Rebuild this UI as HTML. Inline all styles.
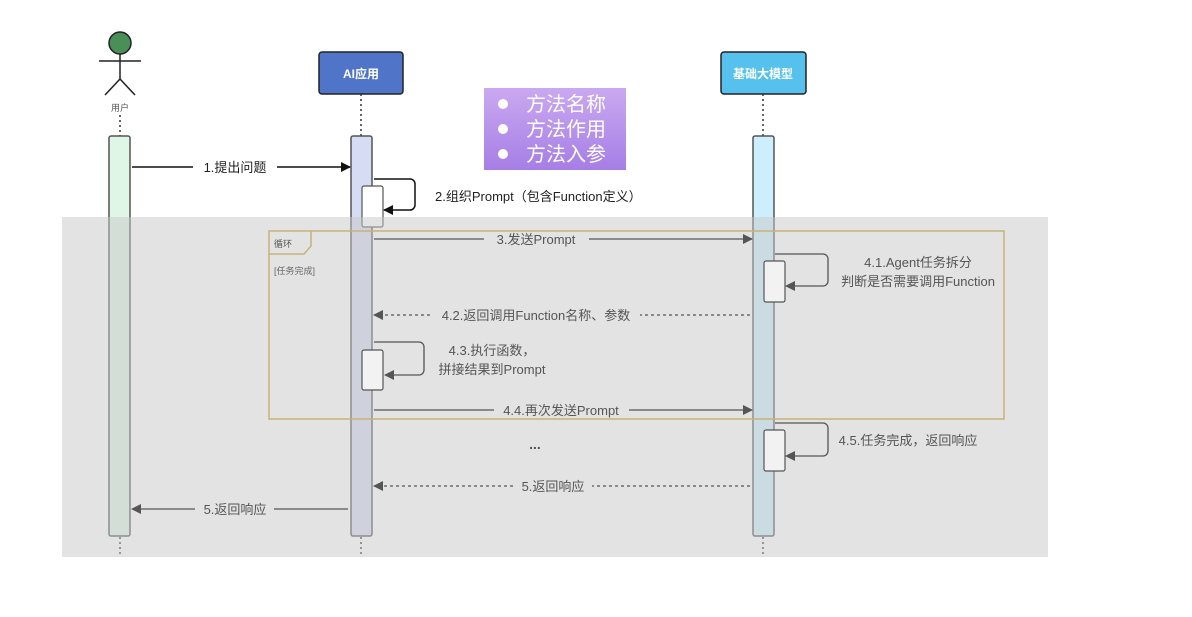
<!DOCTYPE html>
<html><head><meta charset="utf-8"><style>
html,body{margin:0;padding:0;background:#fff;}
svg{display:block;font-family:"Liberation Sans","Noto Sans CJK SC",sans-serif;}
</style></head><body>
<svg width="1192" height="617" viewBox="0 0 1192 617" xmlns="http://www.w3.org/2000/svg">
<defs>
<marker id="ab" markerWidth="10" markerHeight="10" refX="9" refY="5" orient="auto" markerUnits="userSpaceOnUse"><path d="M0,0 L10,5 L0,10z" fill="#111"/></marker>
<marker id="ag" markerWidth="10" markerHeight="10" refX="9" refY="5" orient="auto" markerUnits="userSpaceOnUse"><path d="M0,0 L10,5 L0,10z" fill="#555"/></marker>
<linearGradient id="pg" x1="0" y1="0" x2="0" y2="1"><stop offset="0" stop-color="#caa9f0"/><stop offset="1" stop-color="#a67ee6"/></linearGradient>
</defs>
<rect width="1192" height="617" fill="#fff"/>
<!-- actor -->
<circle cx="120" cy="43" r="11" fill="#4a8f57" stroke="#222" stroke-width="1.5"/>
<line x1="120" y1="54" x2="120" y2="79" stroke="#222" stroke-width="1.5"/>
<line x1="99" y1="61" x2="141" y2="61" stroke="#222" stroke-width="1.5"/>
<line x1="120" y1="79" x2="105" y2="95" stroke="#222" stroke-width="1.5"/>
<line x1="120" y1="79" x2="135" y2="95" stroke="#222" stroke-width="1.5"/>
<text x="120" y="111" font-size="9" fill="#555" text-anchor="middle">用户</text>
<!-- heads -->
<rect x="319" y="52" width="84" height="42" rx="3" fill="#4f74c8" stroke="#222" stroke-width="1.5"/>
<text x="361" y="78" font-size="12" font-weight="bold" fill="#fff" text-anchor="middle">AI应用</text>
<rect x="721" y="52" width="85" height="42" rx="3" fill="#56c1ec" stroke="#222" stroke-width="1.5"/>
<text x="763" y="78" font-size="12" font-weight="bold" fill="#fff" text-anchor="middle">基础大模型</text>
<!-- dotted -->
<g stroke="#333" stroke-width="1.5" stroke-dasharray="2,3">
<line x1="120" y1="115" x2="120" y2="136"/><line x1="361" y1="94" x2="361" y2="136"/><line x1="763" y1="94" x2="763" y2="136"/>
<line x1="120" y1="537" x2="120" y2="557"/><line x1="361" y1="537" x2="361" y2="557"/><line x1="763" y1="537" x2="763" y2="557"/>
</g>
<!-- purple box -->
<rect x="484" y="88" width="142" height="82" fill="url(#pg)"/>
<g fill="#fff" font-size="20"><circle cx="503" cy="104" r="5"/><circle cx="503" cy="129" r="5"/><circle cx="503" cy="154" r="5"/>
<text x="526" y="111">方法名称</text><text x="526" y="136">方法作用</text><text x="526" y="161">方法入参</text></g>
<!-- bars -->
<rect x="109" y="136" width="21" height="400" rx="2" fill="#dff5e6" stroke="#555" stroke-width="1.5"/>
<rect x="351" y="136" width="21" height="400" rx="2" fill="#d6dcf3" stroke="#555" stroke-width="1.5"/>
<rect x="753" y="136" width="21" height="400" rx="2" fill="#cdeefd" stroke="#555" stroke-width="1.5"/>
<!-- step 1,2 -->
<line x1="132" y1="167" x2="193" y2="167" stroke="#111" stroke-width="1.5"/>
<line x1="277" y1="167" x2="350" y2="167" stroke="#111" stroke-width="1.5" marker-end="url(#ab)"/>
<text x="235" y="172" font-size="13" fill="#222" text-anchor="middle">1.提出问题</text>
<rect x="362" y="186" width="21" height="41" rx="2" fill="#fff" stroke="#555" stroke-width="1.2"/>
<path d="M374,179 H410 a5,5 0 0 1 5,5 V205 a5,5 0 0 1 -5,5 H384" fill="none" stroke="#111" stroke-width="1.5" marker-end="url(#ab)"/>
<text x="435" y="201" font-size="13" fill="#222">2.组织Prompt（包含Function定义）</text>
<!-- overlay -->
<rect x="62" y="217" width="986" height="340" fill="rgba(200,200,200,0.5)"/>
<!-- loop frame -->
<rect x="269" y="231" width="735" height="188" fill="none" stroke="#c8b27a" stroke-width="1.5"/>
<path d="M269,254 H304 L311,246 V231" fill="none" stroke="#c8b27a" stroke-width="1.5"/>
<text x="274" y="247" font-size="9" fill="#555">循环</text>
<text x="274" y="274" font-size="9" fill="#666">[任务完成]</text>
<g font-size="13" fill="#555" text-anchor="middle">
<line x1="374" y1="239" x2="484" y2="239" stroke="#555" stroke-width="1.3"/>
<line x1="589" y1="239" x2="752" y2="239" stroke="#555" stroke-width="1.3" marker-end="url(#ag)"/>
<text x="536" y="244">3.发送Prompt</text>
<rect x="764" y="261" width="21" height="41" rx="2" fill="#f2f2f2" stroke="#555" stroke-width="1.2"/>
<path d="M775,254 H823 a5,5 0 0 1 5,5 V281 a5,5 0 0 1 -5,5 H786" fill="none" stroke="#555" stroke-width="1.3" marker-end="url(#ag)"/>
<text x="918" y="267">4.1.Agent任务拆分</text>
<text x="918" y="286">判断是否需要调用Function</text>
<line x1="750" y1="315" x2="640" y2="315" stroke="#555" stroke-width="1.3" stroke-dasharray="3,3"/>
<line x1="430" y1="315" x2="374" y2="315" stroke="#555" stroke-width="1.3" stroke-dasharray="3,3" marker-end="url(#ag)"/>
<text x="536" y="320">4.2.返回调用Function名称、参数</text>
<rect x="362" y="350" width="21" height="40" rx="2" fill="#f2f2f2" stroke="#555" stroke-width="1.2"/>
<path d="M374,342 H419 a5,5 0 0 1 5,5 V370 a5,5 0 0 1 -5,5 H385" fill="none" stroke="#555" stroke-width="1.3" marker-end="url(#ag)"/>
<text x="492" y="355">4.3.执行函数，</text>
<text x="492" y="374">拼接结果到Prompt</text>
<line x1="374" y1="410" x2="494" y2="410" stroke="#555" stroke-width="1.3"/>
<line x1="629" y1="410" x2="752" y2="410" stroke="#555" stroke-width="1.3" marker-end="url(#ag)"/>
<text x="561" y="415">4.4.再次发送Prompt</text>
<rect x="764" y="430" width="21" height="41" rx="2" fill="#f2f2f2" stroke="#555" stroke-width="1.2"/>
<path d="M775,423 H823 a5,5 0 0 1 5,5 V451 a5,5 0 0 1 -5,5 H786" fill="none" stroke="#555" stroke-width="1.3" marker-end="url(#ag)"/>
<text x="908" y="445">4.5.任务完成，返回响应</text>
<text x="535" y="449" font-size="14" font-weight="bold">...</text>
<line x1="750" y1="486" x2="592" y2="486" stroke="#555" stroke-width="1.3" stroke-dasharray="3,3"/>
<line x1="513" y1="486" x2="374" y2="486" stroke="#555" stroke-width="1.3" stroke-dasharray="3,3" marker-end="url(#ag)"/>
<text x="553" y="491">5.返回响应</text>
<line x1="348" y1="509" x2="274" y2="509" stroke="#555" stroke-width="1.3"/>
<line x1="195" y1="509" x2="132" y2="509" stroke="#555" stroke-width="1.3" marker-end="url(#ag)"/>
<text x="235" y="514">5.返回响应</text>
</g>
</svg>
</body></html>
